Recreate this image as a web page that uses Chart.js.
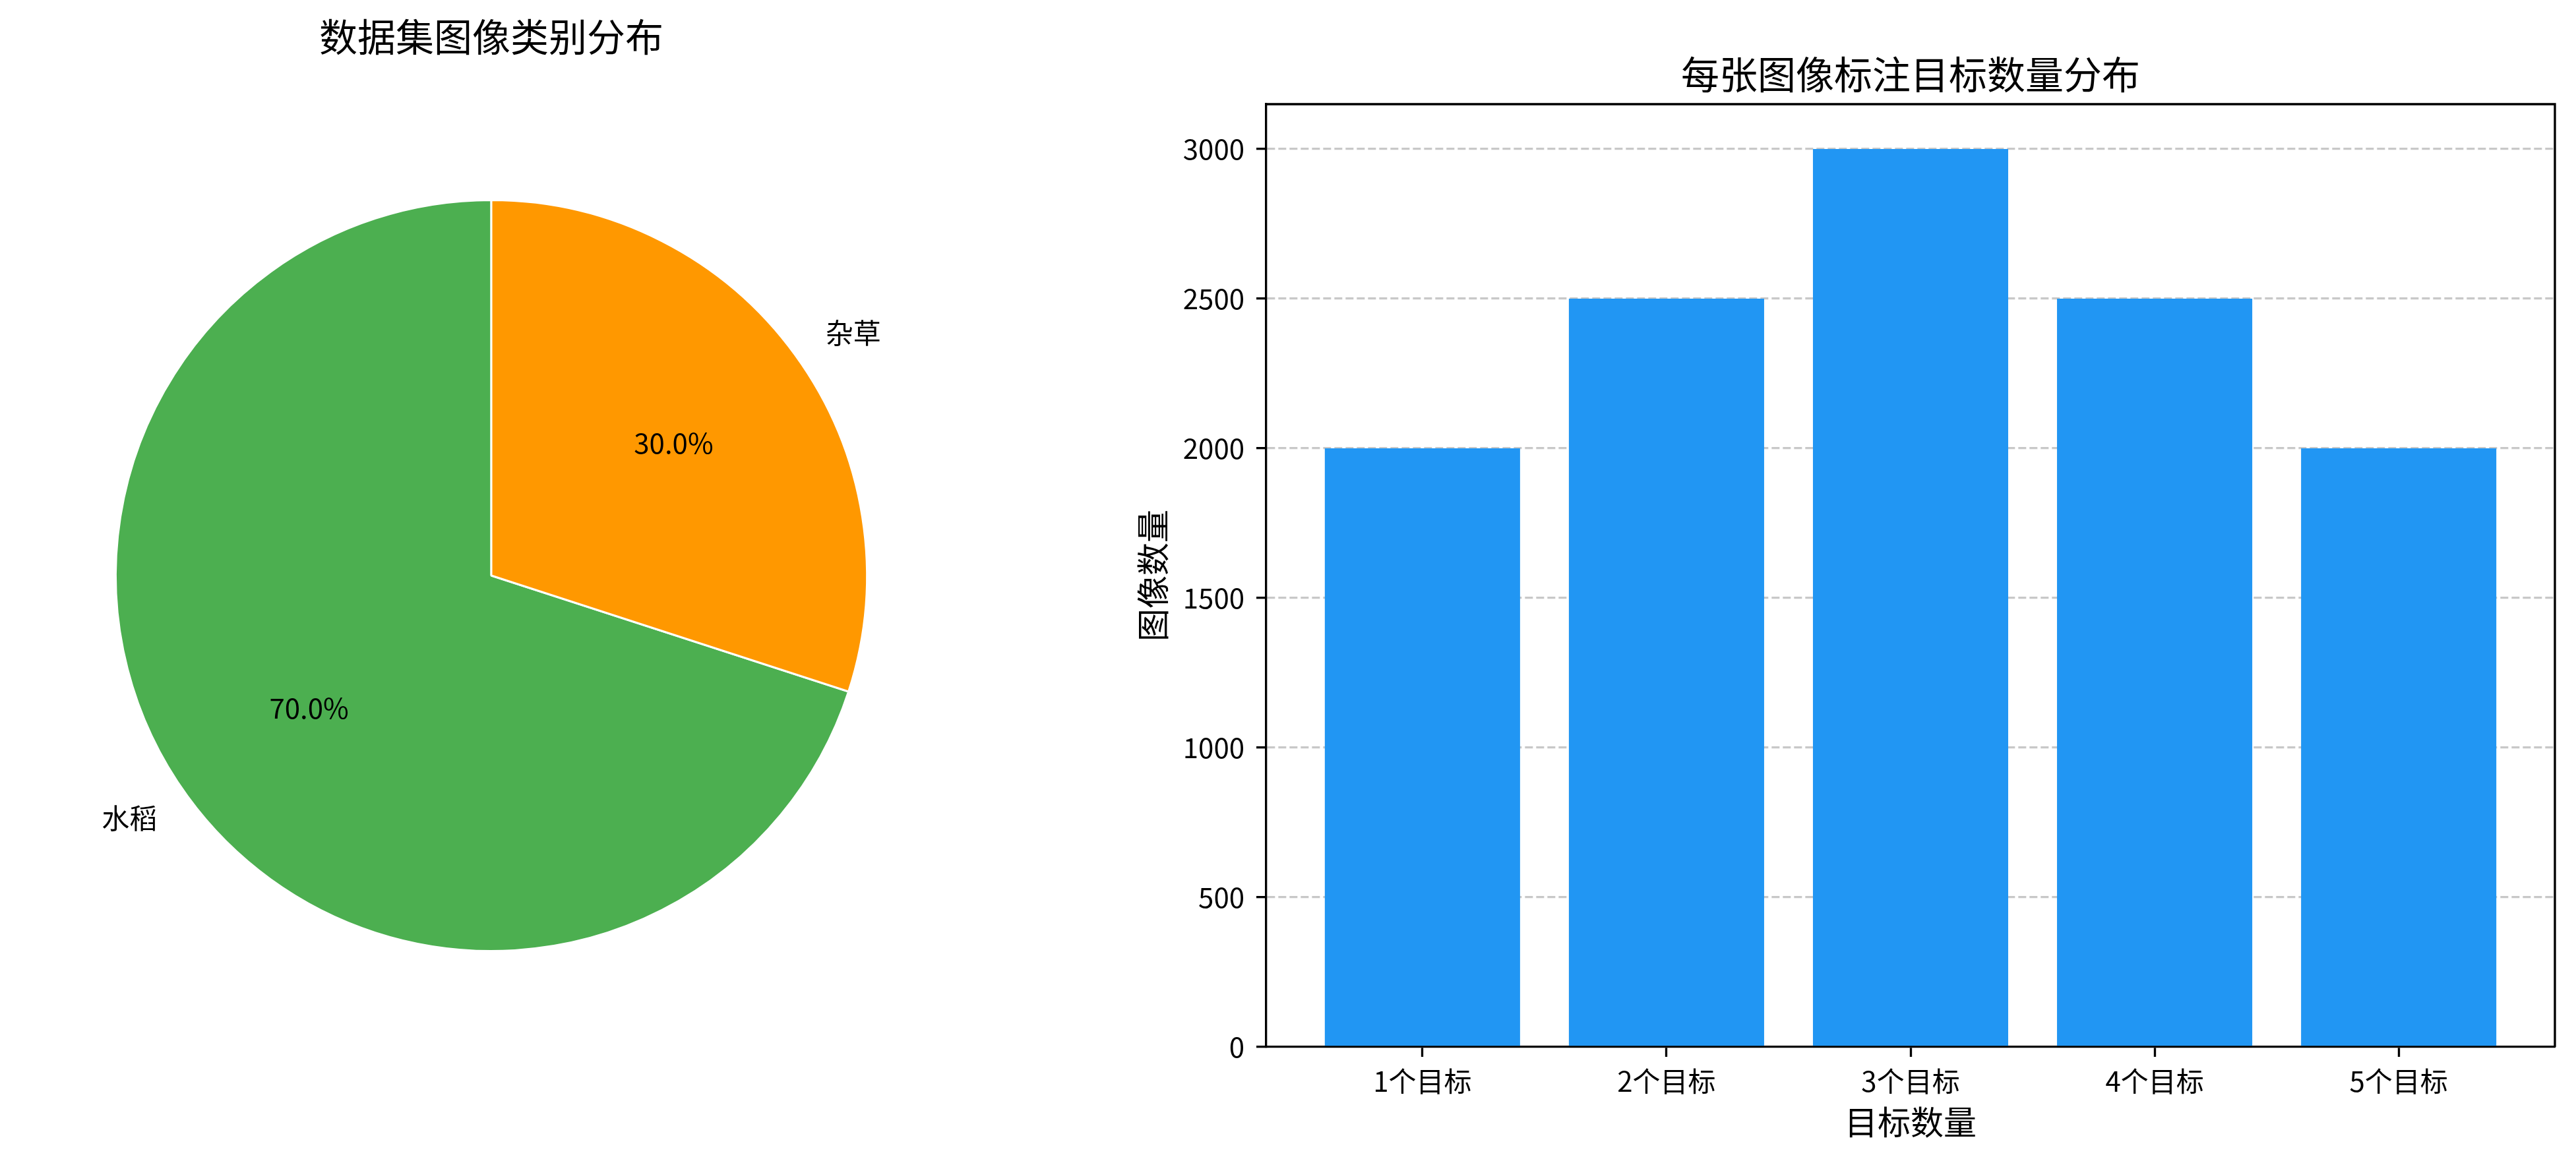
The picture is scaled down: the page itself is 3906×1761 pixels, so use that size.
<!DOCTYPE html>
<html>
<head>
<meta charset="utf-8">
<script src="https://cdn.jsdelivr.net/npm/chart.js@4"></script>
<style>
    html, body { margin: 0; padding: 0; background: #fff; overflow: hidden; }
    #pieCanvas { position: absolute; left: 0; top: 0; }
    #barCanvas { position: absolute; left: 1700px; top: 0; }
</style>
</head>
<body>
<canvas id="pieCanvas" width="1700" height="1761"></canvas>
<canvas id="barCanvas" width="2206" height="1761"></canvas>
<script>
/* --- data --- */
const classLabels = ['水稻', '杂草'];
const classValues = [70, 30];
const classColors = ['#4CAF50', '#FF9800'];

const countLabels = ['1个目标', '2个目标', '3个目标', '4个目标', '5个目标'];
const countValues = [2000, 2500, 3000, 2500, 2000];
const countTicks = [0, 500, 1000, 1500, 2000, 2500, 3000];

const pieTitle = '数据集图像类别分布';
const barTitle = '每张图像标注目标数量分布';
const xAxisTitle = '目标数量';
const yAxisTitle = '图像数量';

const FONT = "'Noto Sans CJK SC', 'Noto Sans', sans-serif";
const LW = 3.33; // 0.8pt at 300dpi

Chart.defaults.font.family = FONT;
Chart.defaults.color = '#000';

// draws a chart title centred over the plot area
function titlePlugin(text, y) {
    return {
        id: 'plotTitle',
        afterDraw(chart) {
            const c = chart.ctx;
            const a = chart.chartArea;
            c.save();
            c.font = '58px ' + FONT;
            c.fillStyle = '#000';
            c.textAlign = 'center';
            c.textBaseline = 'middle';
            c.fillText(text, (a.left + a.right) / 2, y);
            c.restore();
        }
    };
}

// matplotlib-style pie labels: name at 1.1r, percentage at 0.6r
const pieLabels = {
    id: 'pieLabels',
    afterDatasetsDraw(chart) {
        const c = chart.ctx;
        const meta = chart.getDatasetMeta(0);
        const data = chart.data.datasets[0].data;
        const total = data.reduce((s, v) => s + v, 0);
        c.save();
        c.font = '42px ' + FONT;
        c.fillStyle = '#000';
        c.textBaseline = 'middle';
        meta.data.forEach((arc, i) => {
            const p = arc.getProps(['x', 'y', 'startAngle', 'endAngle', 'outerRadius'], true);
            const mid = (p.startAngle + p.endAngle) / 2;
            const cos = Math.cos(mid), sin = Math.sin(mid);
            c.textAlign = cos > 0 ? 'left' : 'right';
            c.fillText(chart.data.labels[i], p.x + cos * p.outerRadius * 1.1, p.y + sin * p.outerRadius * 1.1);
            c.textAlign = 'center';
            const pct = (data[i] / total * 100).toFixed(1) + '%';
            c.fillText(pct, p.x + cos * p.outerRadius * 0.6, p.y + sin * p.outerRadius * 0.6);
        });
        c.restore();
    }
};

// top and right spines
const boxSpines = {
    id: 'boxSpines',
    afterDraw(chart) {
        const c = chart.ctx;
        const a = chart.chartArea;
        c.save();
        c.strokeStyle = '#000';
        c.lineWidth = LW;
        c.beginPath();
        c.moveTo(a.left, a.top);
        c.lineTo(a.right, a.top);
        c.lineTo(a.right, a.bottom);
        c.stroke();
        c.restore();
    }
};

new Chart(document.getElementById('pieCanvas'), {
    type: 'pie',
    data: {
        labels: classLabels,
        datasets: [{
            data: classValues,
            backgroundColor: classColors,
            borderColor: '#ffffff',
            borderWidth: 3
        }]
    },
    options: {
        responsive: false,
        animation: false,
        devicePixelRatio: 1,
        rotation: 108,
        layout: { padding: { left: 174, right: 384, top: 302, bottom: 317 } },
        plugins: {
            legend: { display: false },
            tooltip: { enabled: false },
            title: { display: false }
        }
    },
    plugins: [pieLabels, titlePlugin(pieTitle, 56)]
});

new Chart(document.getElementById('barCanvas'), {
    type: 'bar',
    data: {
        datasets: [{
            data: countValues.map((v, i) => ({ x: i, y: v })),
            backgroundColor: '#2196F3',
            borderWidth: 0,
            categoryPercentage: 1,
            barPercentage: 0.8
        }]
    },
    options: {
        responsive: false,
        animation: false,
        devicePixelRatio: 1,
        layout: { padding: { left: 0, right: 32, top: 158, bottom: 0 } },
        plugins: {
            legend: { display: false },
            tooltip: { enabled: false },
            title: { display: false }
        },
        scales: {
            x: {
                type: 'linear',
                min: -0.64,
                max: 4.64,
                offset: false,
                z: 2,
                afterBuildTicks: s => { s.ticks = countLabels.map((_, i) => ({ value: i })); },
                afterFit: s => { s.height = 173; },
                ticks: {
                    callback: v => countLabels[v],
                    font: { size: 42 },
                    padding: 12,
                    maxRotation: 0,
                    autoSkip: false
                },
                grid: {
                    offset: false,
                    drawOnChartArea: false,
                    color: 'rgba(0,0,0,0)',
                    tickColor: '#000',
                    tickWidth: LW,
                    tickLength: 15
                },
                border: { color: '#000', width: LW },
                title: {
                    display: true,
                    text: xAxisTitle,
                    font: { size: 50 },
                    padding: { top: 0, bottom: 29 }
                }
            },
            y: {
                min: 0,
                max: 3150,
                z: 1,
                afterBuildTicks: s => { s.ticks = countTicks.map(v => ({ value: v })); },
                afterFit: s => { s.width = 220; },
                ticks: {
                    callback: v => String(v),
                    font: { size: 42 },
                    padding: 18
                },
                grid: {
                    color: ctx => ctx.tick && ctx.tick.value === 0 ? 'rgba(0,0,0,0)' : 'rgba(176,176,176,0.7)',
                    lineWidth: LW,
                    tickColor: '#000',
                    tickWidth: LW,
                    tickLength: 15,
                    tickBorderDash: []
                },
                border: { color: '#000', width: LW, dash: [12, 5] },
                title: {
                    display: true,
                    text: yAxisTitle,
                    font: { size: 50 },
                    padding: { top: 18, bottom: 0 }
                }
            }
        }
    },
    plugins: [boxSpines, titlePlugin(barTitle, 113)]
});
</script>
</body>
</html>
